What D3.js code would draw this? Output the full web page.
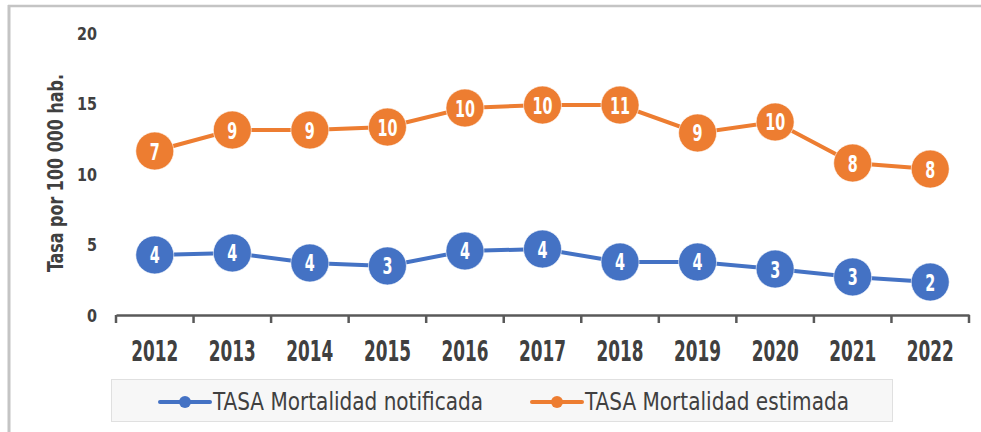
<!DOCTYPE html>
<html>
<head>
<meta charset="utf-8">
<script src="https://cdn.jsdelivr.net/npm/d3@7"></script>
<style>
  html, body { margin: 0; padding: 0; background: #ffffff; }
  svg { display: block; }
  text { font-family: "Liberation Sans Narrow", "DejaVu Sans Condensed", "Roboto", sans-serif; font-weight: bold; }
</style>
</head>
<body>
<svg id="chart" width="981" height="432"></svg>
<script>
// ---- data ----
const years = ["2012","2013","2014","2015","2016","2017","2018","2019","2020","2021","2022"];
const tasaNotificada = [4.26, 4.40, 3.69, 3.48, 4.54, 4.68, 3.76, 3.76, 3.26, 2.70, 2.34];
const tasaEstimada   = [11.63, 13.12, 13.12, 13.33, 14.68, 14.89, 14.89, 12.91, 13.69, 10.78, 10.35];
const labelsNotificada = [4, 4, 4, 3, 4, 4, 4, 4, 3, 3, 2];
const labelsEstimada   = [7, 9, 9, 10, 10, 10, 11, 9, 10, 8, 8];
const yTicks = [0, 5, 10, 15, 20];
const seriesNames = ["TASA Mortalidad notificada", "TASA Mortalidad estimada"];
const seriesColors = ["#4472C4", "#ED7D31"];
const yTitle = "Tasa por 100 000 hab.";

const series = [
  { name: seriesNames[0], color: seriesColors[0], values: tasaNotificada, labels: labelsNotificada },
  { name: seriesNames[1], color: seriesColors[1], values: tasaEstimada, labels: labelsEstimada }
];

const svg = d3.select("#chart");
const textColor = "#404040";

// condense helper: force a text to a given width
function fit(sel, widthFn) {
  sel.each(function(d, i) {
    const w = widthFn(this.textContent, d, i);
    d3.select(this).attr("textLength", w).attr("lengthAdjust", "spacingAndGlyphs");
  });
}

// frame
svg.append("line").attr("x1", 8).attr("x2", 981).attr("y1", 6).attr("y2", 6)
  .attr("stroke", "#c4c4c4").attr("stroke-width", 2.5);
svg.append("line").attr("x1", 9).attr("x2", 9).attr("y1", 5).attr("y2", 432)
  .attr("stroke", "#c4c4c4").attr("stroke-width", 3);

// scales
const x = d3.scaleBand().domain(years).range([116, 969]).padding(0);
const y = d3.scaleLinear().domain([0, 20]).range([315, 33]);
const cx = d => x(d) + x.bandwidth() / 2;

// y axis (labels only)
const yAxis = svg.append("g").attr("transform", "translate(100,0)")
  .call(d3.axisLeft(y).tickValues(yTicks).tickSize(0).tickPadding(3));
yAxis.select(".domain").remove();
yAxis.selectAll("text").attr("fill", textColor).style("font-size", "18px")
  .style("font-family", null).attr("dy", "0.36em");
fit(yAxis.selectAll("text"), t => t.length * 10);

// y title
const yt = svg.append("text")
  .attr("transform", "translate(63,173) rotate(-90)")
  .attr("text-anchor", "middle")
  .attr("fill", textColor).style("font-size", "21px")
  .text(yTitle);
fit(yt, () => 198);

// x axis
const xAxis = svg.append("g").attr("transform", "translate(0,315)")
  .call(d3.axisBottom(x).tickSize(0).tickPadding(46));
xAxis.select(".domain").attr("stroke", "#595959").attr("stroke-width", 2.5);
xAxis.selectAll("text").attr("fill", textColor).style("font-size", "28px")
  .style("font-family", null).attr("dy", "0");
fit(xAxis.selectAll("text"), t => t.length * 11.75);
// tick marks at band boundaries
const bounds = years.map(d => x(d)).concat([x(years[years.length - 1]) + x.bandwidth()]);
xAxis.selectAll("line.bound").data(bounds).join("line").attr("class", "bound")
  .attr("x1", d => d).attr("x2", d => d).attr("y1", 0).attr("y2", 8)
  .attr("stroke", "#595959").attr("stroke-width", 2.5);

// lines and markers
const line = d3.line().x((d, i) => cx(years[i])).y(d => y(d));
series.forEach(s => {
  const g = svg.append("g");
  g.append("path").datum(s.values).attr("d", line)
    .attr("fill", "none").attr("stroke", s.color).attr("stroke-width", 4);
  g.selectAll("circle").data(s.values).join("circle")
    .attr("cx", (d, i) => cx(years[i])).attr("cy", d => y(d)).attr("r", 19)
    .attr("fill", s.color).attr("stroke", "#ffffff").attr("stroke-opacity", 0.6).attr("stroke-width", 1);
  const lab = g.selectAll("text").data(s.values).join("text")
    .attr("x", (d, i) => cx(years[i])).attr("y", d => y(d))
    .attr("dy", "0.37em").attr("text-anchor", "middle")
    .attr("fill", "#ffffff").style("font-size", "23px")
    .text((d, i) => s.labels[i]);
  fit(lab, t => t.length * 10);
});

// legend
const leg = svg.append("g");
leg.append("rect").attr("x", 111.5).attr("y", 379.5).attr("width", 781).attr("height", 42)
  .attr("fill", "#f7f7f7").attr("stroke", "#e0e0e0").attr("stroke-width", 1);
const legX = [160, 532];
const legW = [270, 264];
series.forEach((s, i) => {
  const gx = legX[i];
  leg.append("line").attr("x1", gx).attr("x2", gx + 50).attr("y1", 402).attr("y2", 402)
    .attr("stroke", s.color).attr("stroke-width", 4).attr("stroke-linecap", "round");
  leg.append("circle").attr("cx", gx + 25).attr("cy", 402).attr("r", 6).attr("fill", s.color);
  const t = leg.append("text").attr("x", gx + 53).attr("y", 410)
    .attr("fill", textColor).style("font-size", "24.5px").style("font-weight", "normal")
    .text(s.name);
  fit(t, () => legW[i]);
});
</script>
</body>
</html>
